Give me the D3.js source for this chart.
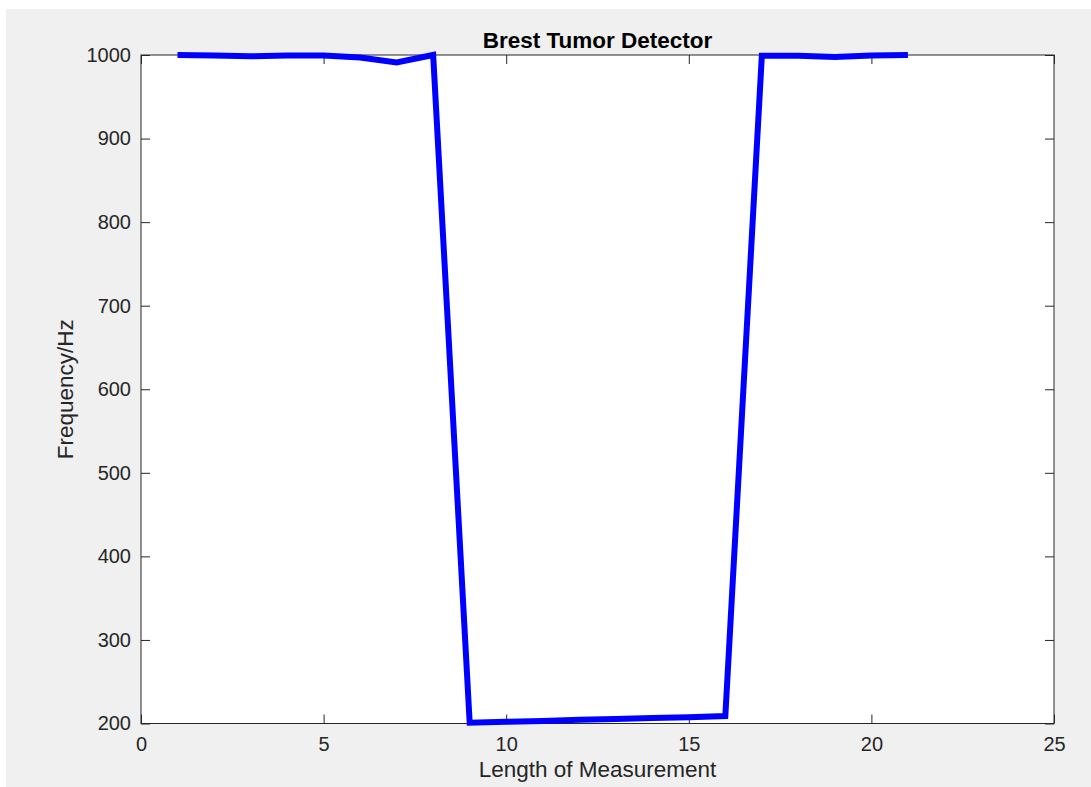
<!DOCTYPE html>
<html><head><meta charset="utf-8">
<script src="https://cdn.jsdelivr.net/npm/d3@7"></script>
<style>
html,body{margin:0;padding:0;background:#fff;}
svg{display:block;}
text{font-family:"Liberation Sans",Arial,Helvetica,sans-serif;fill:#262626;}
</style></head>
<body>
<svg id="chart" width="1091" height="787"></svg>
<script>
const xValues = [1,2,3,4,5,6,7,8,9,10,11,12,13,14,15,16,17,18,19,20,21];
const frequency = [1000,999.5,998.5,999.5,999.5,997,991,1000,201,202,203,204.5,205.5,206.5,207.5,209,999,999,997.5,999.5,1000];
const xTicks = [0,5,10,15,20,25];
const yTicks = [200,300,400,500,600,700,800,900,1000];
const titleText = "Brest Tumor Detector";
const xLabel = "Length of Measurement";
const yLabel = "Frequency/Hz";

const svg = d3.select("#chart");
const W = 1091, H = 787;
const L = 141, R = 1054, T = 55, B = 723.5;

svg.append("rect").attr("x",6).attr("y",9).attr("width",W-6).attr("height",H-9).attr("fill","#f0f0f0");
svg.append("rect").attr("x",L).attr("y",T).attr("width",R-L).attr("height",B-T).attr("fill","#ffffff");

const x = d3.scaleLinear().domain([0,25]).range([L,R]);
const y = d3.scaleLinear().domain([200,1000]).range([B,T]);

const axisColor = "#262626";
const tickLen = 9;

const gx = svg.append("g").attr("transform",`translate(0,${B})`)
  .call(d3.axisBottom(x).tickValues(xTicks).tickSize(0).tickPadding(13).tickFormat(d3.format("d")));
gx.select(".domain").remove();
gx.selectAll("text").attr("font-size",20).style("fill","#262626");
const gxt = svg.append("g").attr("transform",`translate(0,${B})`)
  .call(d3.axisTop(x).tickValues(xTicks).tickSize(tickLen).tickFormat(""));
gxt.select(".domain").remove();
gxt.selectAll("line").attr("stroke",axisColor);
const gxt2 = svg.append("g").attr("transform",`translate(0,${T})`)
  .call(d3.axisBottom(x).tickValues(xTicks).tickSize(tickLen).tickFormat(""));
gxt2.select(".domain").remove();
gxt2.selectAll("line").attr("stroke",axisColor);

const gy = svg.append("g").attr("transform",`translate(${L},0)`)
  .call(d3.axisLeft(y).tickValues(yTicks).tickSize(0).tickPadding(10).tickFormat(d3.format("d")));
gy.select(".domain").remove();
gy.selectAll("text").attr("font-size",20).style("fill","#262626");
const gyt = svg.append("g").attr("transform",`translate(${L},0)`)
  .call(d3.axisRight(y).tickValues(yTicks).tickSize(tickLen).tickFormat(""));
gyt.select(".domain").remove();
gyt.selectAll("line").attr("stroke",axisColor);
const gyt2 = svg.append("g").attr("transform",`translate(${R},0)`)
  .call(d3.axisLeft(y).tickValues(yTicks).tickSize(tickLen).tickFormat(""));
gyt2.select(".domain").remove();
gyt2.selectAll("line").attr("stroke",axisColor);

svg.append("rect").attr("x",L).attr("y",T).attr("width",R-L).attr("height",B-T)
  .attr("fill","none").attr("stroke",axisColor).attr("stroke-width",1);

const data = xValues.map((d,i)=>({x:d,y:frequency[i]}));
svg.append("path").datum(data)
  .attr("d", d3.line().x(d=>x(d.x)).y(d=>y(d.y)))
  .attr("fill","none").attr("stroke","#0000ff").attr("stroke-width",6)
  .attr("stroke-linejoin","miter").attr("stroke-miterlimit",10);

svg.append("text").attr("x",(L+R)/2).attr("y",48).attr("text-anchor","middle")
  .attr("font-size",22.5).attr("font-weight","bold").style("fill","#000").text(titleText);
svg.append("text").attr("x",(L+R)/2).attr("y",777).attr("text-anchor","middle")
  .attr("font-size",22.5).style("fill","#262626").text(xLabel);
svg.append("text").attr("transform",`translate(73,${(T+B)/2}) rotate(-90)`).attr("text-anchor","middle")
  .attr("font-size",22.5).style("fill","#262626").text(yLabel);
</script>
</body></html>
